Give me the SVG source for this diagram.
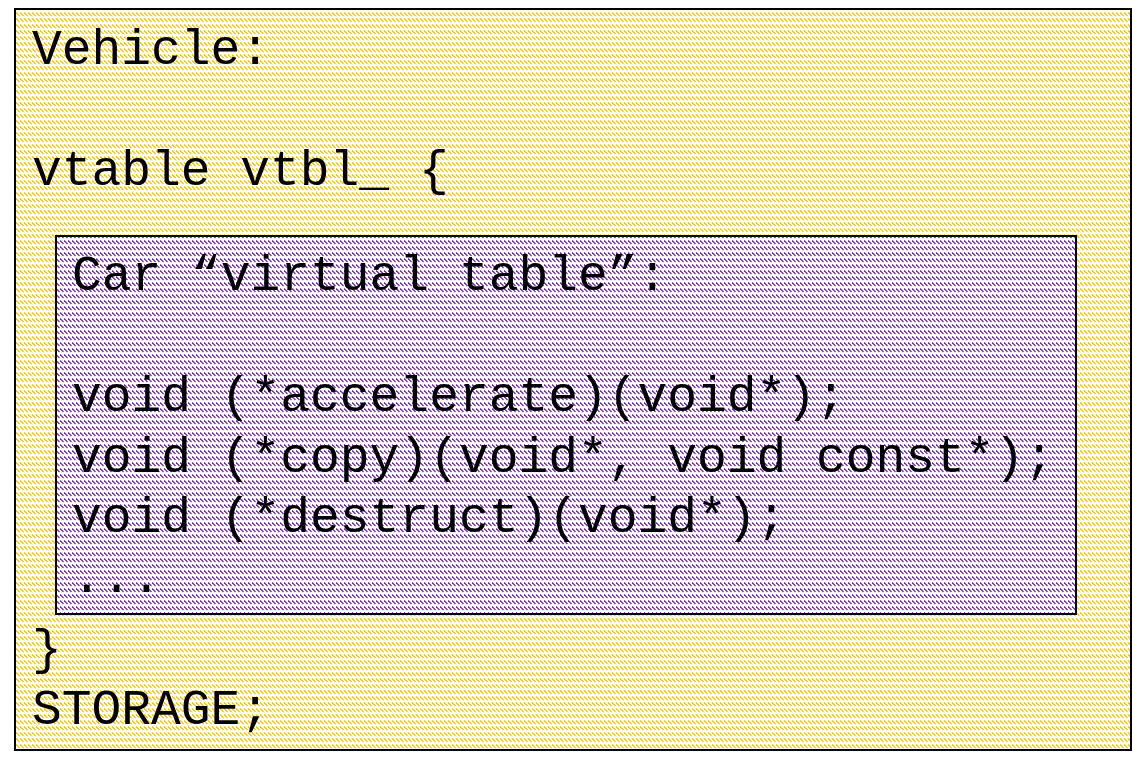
<svg xmlns="http://www.w3.org/2000/svg" width="1132" height="766" viewBox="0 0 1132 766">
<defs>
<pattern id="hy" width="4" height="6" patternUnits="userSpaceOnUse">
<rect width="4" height="6" fill="#fff"/>
<path d="M0,0.5 L3.5,4" stroke="#f5c400" stroke-width="1.2"/>
</pattern>
<pattern id="hp" width="4" height="6" patternUnits="userSpaceOnUse">
<rect width="4" height="6" fill="#fff"/>
<path d="M0,0.5 L3.5,4" stroke="#6a2aa8" stroke-width="1.2"/>
</pattern>
</defs>
<style>
text{font-family:"Liberation Mono","Courier New",monospace;font-size:49.6px;fill:#000}
</style>
<rect width="1132" height="766" fill="#fff"/>
<g id="vehicle">
<rect x="15" y="9" width="1116" height="741" fill="url(#hy)" stroke="#000" stroke-width="2"/>
<text x="32" y="64">Vehicle:</text>
<text x="32" y="185">vtable vtbl_ {</text>
<text x="32" y="664">}</text>
<text x="32" y="724">STORAGE;</text>
</g>
<g id="vtable">
<rect x="56" y="236" width="1020" height="378" fill="url(#hp)" stroke="#000" stroke-width="2"/>
<text x="72" y="290">Car “virtual table”:</text>
<text x="72" y="411">void (*accelerate)(void*);</text>
<text x="72" y="472">void (*copy)(void*, void const*);</text>
<text x="72" y="532">void (*destruct)(void*);</text>
<text x="72" y="592">...</text>
</g>
<g id="connectors"/>
</svg>
